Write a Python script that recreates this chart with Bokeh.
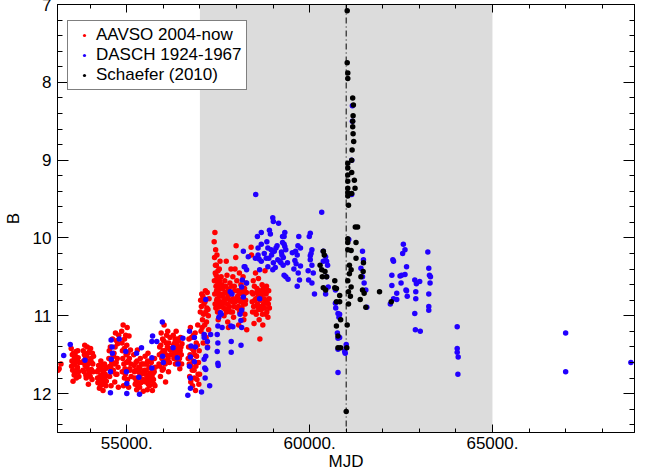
from bokeh.plotting import figure
from bokeh.models import (Range1d, FixedTicker, LinearAxis, BoxAnnotation, Span, Legend,
                          LegendItem, CustomLabelingPolicy)
from bokeh.embed import file_html
from bokeh.resources import INLINE

FONT = "Liberation Sans"

# ---------------- data ----------------
aavso_mjd = [
    53120, 53150, 53200,
    53480, 53500, 53520, 53540, 53560, 53580, 53600, 53620, 53640, 53660, 53680, 53700, 53530,
    53490, 53510, 53550, 53570, 53590, 53610, 53630, 53650, 53670, 53690,
    53790, 53810, 53830, 53850, 53870, 53890, 53910, 53930, 53950, 53970, 53990, 54010, 54030, 54050, 54070, 54090,
    53800, 53820, 53840, 53860, 53880, 53900, 53920, 53940, 53960, 53980, 54000, 54020, 54040, 54060, 54080,
    54190, 54210, 54230, 54250, 54270, 54290, 54310, 54330, 54350, 54370, 54390, 54410, 54430, 54450,
    54200, 54220, 54240, 54260, 54280, 54300, 54320, 54340, 54360, 54380, 54400, 54420, 54440,
    54510, 54530, 54550, 54570, 54590, 54610, 54630, 54650, 54670, 54690, 54710, 54730, 54750, 54770, 54560, 54640,
    54520, 54540, 54580, 54600, 54620, 54660, 54680, 54700, 54720, 54740, 54760, 54780,
    54860, 54880, 54900, 54920, 54940, 54960, 54980, 55000, 55020, 55040, 55060, 55080, 55100, 55120, 54910, 55010, 55050,
    54870, 54890, 54930, 54950, 54970, 54990, 55030, 55070, 55090, 55110, 54875, 54935,
    55190, 55210, 55230, 55250, 55270, 55290, 55310, 55330, 55350, 55370, 55390, 55410, 55430, 55450,
    55200, 55220, 55240, 55260, 55280, 55300, 55320, 55340, 55360, 55380, 55400, 55420, 55440,
    55480, 55500, 55520, 55540, 55560, 55580, 55600, 55620, 55640, 55660, 55680, 55700, 55720, 55740, 55760, 55780,
    55490, 55510, 55530, 55550, 55570, 55590, 55610, 55630, 55650, 55670, 55690, 55710, 55730, 55750, 55770,
    55880, 55900, 55920, 55940, 55960, 55980, 56000, 56020, 56040, 56060, 56080, 56100, 56120, 56140, 56160, 56180, 56200,
    55890, 55910, 55930, 55950, 55970, 55990, 56010, 56030, 56050, 56070, 56090, 56110, 56130, 56150, 56170, 56190,
    56250, 56270, 56290, 56310, 56330, 56350, 56370, 56390, 56410, 56430, 56450, 56470, 56490, 56510,
    56260, 56280, 56300, 56320, 56340, 56360, 56380, 56400, 56420, 56440, 56460, 56480, 56500,
    56680, 56700, 56720, 56740, 56760, 56780, 56800, 56820, 56840, 56860, 56880, 56900, 56920, 56940, 56960, 56980, 56990,
    56690, 56710, 56730, 56750, 56770, 56790, 56810, 56830, 56850, 56870, 56890, 56910, 56930, 56950, 56970,
    57010, 57030, 57050, 57070, 57090, 57110, 57130, 57150, 57170, 57190, 57210, 57230, 57250,
    57020, 57040, 57060, 57080, 57100, 57120, 57140, 57160, 57180, 57200, 57220, 57240,
    57390, 57400, 57410, 57420, 57430, 57440, 57450, 57460, 57470, 57480, 57490, 57500, 57510, 57520, 57530, 57540, 57550, 57560, 57570, 57580,
    57395, 57405, 57415, 57425, 57435, 57445, 57455, 57465, 57475, 57485, 57495, 57505, 57515, 57525, 57535, 57545, 57555, 57565, 57575,
    57600, 57620, 57640, 57660, 57680, 57700, 57720, 57740, 57760, 57780, 57800, 57820, 57840, 57860, 57880, 57900, 57920, 57940, 57960, 57980,
    57990, 58000, 58010, 58020, 58040, 58060, 58080, 58100, 58120, 58140, 58160, 58180, 58200, 58220, 58240, 58260, 58280, 57720, 57850, 57780,
    57610, 57630, 57650, 57670, 57690, 57710, 57730, 57750, 57770, 57790, 57810, 57830, 57870, 57890, 57910, 57930, 57950, 57970,
    58030, 58050, 58070, 58090, 58110, 58130, 58150, 58170, 58190, 58210, 58230, 58250, 58270,
    58420, 58440, 58460, 58480, 58500, 58520, 58540, 58560, 58580, 58600, 58620, 58640, 58660, 58680, 58700, 58720, 58740, 58760, 58780, 58800, 58820, 58840, 58860, 58880, 58900,
    58430, 58450, 58470, 58490, 58510, 58530, 58550, 58570, 58590, 58610, 58630, 58650, 58670, 58690, 58710, 58730, 58750, 58770, 58790, 58810, 58830, 58850, 58870, 58890,
    58400, 58410,
]
aavso_b = [
    11.70, 11.68, 11.62,
    11.42, 11.58, 11.70, 11.48, 11.76, 11.63, 11.52, 11.80, 11.68, 11.45, 11.72, 11.60, 11.84,
    11.65, 11.50, 11.62, 11.55, 11.74, 11.46, 11.58, 11.66, 11.54, 11.78,
    11.60, 11.45, 11.72, 11.38, 11.55, 11.80, 11.66, 11.48, 11.88, 11.74, 11.58, 11.42, 11.69, 11.82, 11.62, 11.52,
    11.70, 11.58, 11.50, 11.64, 11.76, 11.52, 11.40, 11.62, 11.70, 11.46, 11.78, 11.55, 11.60, 11.48, 11.72,
    11.72, 11.86, 11.64, 11.93, 11.78, 11.58, 11.88, 11.70, 11.96, 11.82, 11.62, 11.75, 11.90, 11.66,
    11.80, 11.70, 11.84, 11.68, 11.90, 11.76, 11.64, 11.82, 11.72, 11.88, 11.80, 11.68, 11.84,
    11.55, 11.78, 11.40, 11.90, 11.62, 11.30, 11.70, 11.48, 11.85, 11.22, 11.60, 11.75, 11.36, 11.92, 11.67, 11.52,
    11.45, 11.65, 11.58, 11.72, 11.50, 11.62, 11.40, 11.75, 11.32, 11.55, 11.66, 11.25,
    11.20, 11.45, 11.12, 11.62, 11.30, 11.75, 11.50, 11.38, 11.82, 11.58, 11.26, 11.68, 11.44, 11.78, 11.90, 11.15, 11.92,
    11.35, 11.55, 11.42, 11.68, 11.25, 11.60, 11.48, 11.55, 11.70, 11.62, 11.72, 11.80,
    11.50, 11.72, 11.88, 11.60, 11.95, 11.44, 11.80, 11.66, 11.92, 11.55, 11.75, 11.85, 11.62, 11.97,
    11.64, 11.80, 11.70, 11.84, 11.58, 11.90, 11.72, 11.78, 11.68, 11.86, 11.62, 11.74, 11.82,
    11.70, 11.52, 11.85, 11.62, 11.95, 11.48, 11.78, 11.90, 11.58, 11.82, 11.68, 11.96, 11.74, 11.88, 11.55, 11.66,
    11.62, 11.75, 11.70, 11.80, 11.58, 11.88, 11.66, 11.74, 11.84, 11.60, 11.78, 11.68, 11.82, 11.72, 11.90,
    11.62, 11.40, 11.78, 11.22, 11.55, 11.30, 11.68, 11.12, 11.45, 11.85, 11.35, 11.58, 11.20, 11.72, 11.42, 11.28, 11.50,
    11.50, 11.65, 11.38, 11.48, 11.70, 11.45, 11.32, 11.58, 11.62, 11.50, 11.25, 11.40, 11.55, 11.35, 11.60, 11.44,
    11.42, 11.25, 11.55, 11.35, 11.62, 11.20, 11.48, 11.30, 11.58, 11.40, 11.68, 11.28, 11.50, 11.36,
    11.50, 11.38, 11.45, 11.30, 11.52, 11.36, 11.60, 11.42, 11.32, 11.55, 11.45, 11.40, 11.62,
    11.55, 11.30, 11.78, 11.15, 11.65, 11.42, 11.90, 11.25, 11.70, 11.50, 11.96, 11.35, 11.82, 11.12, 11.60, 11.45, 11.75,
    11.40, 11.62, 11.50, 11.85, 11.28, 11.70, 11.58, 11.45, 11.80, 11.22, 11.65, 11.52, 11.38, 11.75, 11.88,
    10.95, 11.20, 10.72, 11.05, 11.35, 10.85, 11.12, 10.68, 11.28, 10.90, 11.40, 11.00, 10.78,
    10.80, 10.88, 11.15, 10.75, 10.98, 11.25, 10.82, 10.95, 11.08, 10.70, 10.92, 11.18,
    10.05, 10.25, 9.93, 10.45, 10.15, 10.62, 10.35, 10.80, 10.52, 10.95, 10.70, 11.05, 10.58, 10.88, 10.40, 10.75, 10.30, 10.65, 10.98, 10.50,
    10.55, 10.72, 10.85, 10.35, 10.90, 10.48, 10.68, 10.22, 10.78, 10.60, 10.42, 10.85, 10.95, 10.65, 10.55, 10.88, 10.72, 10.82, 10.62,
    10.60, 10.85, 10.72, 11.00, 10.55, 10.92, 10.78, 10.48, 11.08, 10.66, 10.88, 10.58, 10.95, 10.70, 10.82, 10.50, 11.02, 10.62, 10.40, 10.25,
    10.10, 10.78, 10.55, 10.90, 10.68, 11.12, 10.45, 10.80, 10.60, 10.95, 10.72, 10.50, 11.05, 10.65, 10.85, 10.58, 11.18, 10.30, 10.40, 11.15,
    10.75, 10.65, 10.90, 10.80, 10.70, 10.62, 10.95, 10.85, 10.75, 10.90, 10.72, 10.80, 10.62, 10.95, 10.78, 10.88, 10.68, 10.82,
    10.75, 10.88, 10.70, 10.95, 10.82, 10.68, 10.90, 10.78, 10.85, 10.72, 10.98, 10.80, 10.70,
    10.70, 10.95, 10.55, 11.10, 10.80, 10.45, 10.98, 10.65, 10.88, 10.52, 11.05, 11.30, 10.75, 10.92, 10.60, 11.12, 10.85, 10.70, 10.42, 10.98, 10.62, 10.80, 11.02, 10.68, 10.90,
    10.82, 10.72, 10.88, 10.62, 10.95, 10.78, 10.70, 10.85, 10.75, 10.92, 10.68, 10.80, 10.88, 10.72, 10.98, 10.65, 10.78, 10.90, 10.82, 10.72, 10.95, 10.68, 10.85, 10.78,
    10.12, 10.22,
]

dasch_mjd = [
    53275, 53454, 53856,
    54553, 54553, 54571, 54598, 54606, 54575,
    54794, 54973, 54989, 55000, 55000,
    55268, 55330, 55348, 55402,
    55686, 55686, 55686, 55705, 55820,
    55972, 55980, 55999,
    56267, 56382, 56401, 56535,
    56669, 56715, 56715, 56741, 56741, 56741, 56757, 56849, 56849, 56875,
    57044, 57116, 57116, 57116, 57132, 57143, 57159, 57159, 57159, 57205, 57205, 57266, 57293,
    57473, 57473, 57491, 57491, 57500, 57491, 57518, 57561, 57607, 57582,
    57829, 57848, 57875, 57856, 57856, 57900,
    58097, 58124, 58142, 58142, 58120, 58142, 58188, 58188, 58210, 58231, 58276, 58276, 58160, 58322,
    58517, 58526, 58571, 58590, 58590, 58617, 58633, 58633, 58678, 58678, 58678,
    58812, 58858, 58858, 58885, 58901, 58927, 58946, 58992, 58992, 58992, 59008, 59008, 59034, 59061, 59080,
    59152, 59187, 59214, 59241, 59260, 59260, 59276, 59302, 59302, 59302, 59321, 59321, 59348, 59348,
    59394, 59410, 59528, 59570, 59597, 59616, 59661, 59661, 59688, 59704, 59723, 59750, 59750,
    59972, 59991, 60018, 60018, 60018, 60063, 60063, 60063, 60133,
    58760, 58830, 58960, 59110, 59130, 59230, 59280, 59630, 59680, 59960, 60040, 60100,
    60331, 60374, 60374, 60438, 60438, 60465, 60465, 60492, 60508,
    60706, 60706, 60714, 60776, 60803, 60821, 60760, 60776, 60821, 60776, 60776, 60960, 60974, 61001, 61001,
    61071, 61151, 61151, 61170, 61170,
    61403, 61446, 61446, 61472, 61491, 61537, 61564,
    62207, 62249, 62249, 62276, 62295, 62295,
    62383, 62383, 62474, 62501, 62517, 62544, 62563, 62608, 62608, 62635, 62651, 62651, 62670,
    62876, 62876, 62892, 62903, 62903, 62919, 63010, 63026,
    63233, 63259, 63259, 63259, 63259, 63278, 63294, 63305,
    64036, 64036, 64036, 64063, 64055,
    67002, 67002, 68786,
]
dasch_b = [
    11.51, 11.37, 11.57,
    11.72, 11.99, 11.31, 11.40, 11.48, 11.56,
    11.30, 11.46, 11.72, 11.87, 12.00,
    11.48, 11.79, 12.01, 11.41,
    11.33, 11.54, 11.67, 11.26, 11.33,
    11.08, 11.52, 11.60,
    11.41, 11.54, 11.62, 11.29,
    12.02, 11.20, 11.65, 11.53, 11.80, 11.93, 11.39, 11.28, 11.59, 11.40,
    11.98, 11.24, 11.56, 11.28, 11.67, 11.80, 10.79, 11.52, 11.69, 11.41, 11.33, 11.90, 11.24,
    11.24, 11.46, 11.35, 11.61, 11.64, 11.13, 11.02, 10.96, 11.15, 10.98,
    10.69, 11.13, 10.72, 11.33, 11.47, 11.14,
    10.98, 11.38, 10.63, 11.15, 11.06, 10.93, 10.76, 10.17, 10.37, 10.37, 10.41, 10.58, 10.54, 10.24,
    10.26, 9.44, 9.98, 10.13, 10.22, 10.27, 10.78, 10.41, 9.93, 10.08, 10.30,
    10.26, 10.13, 10.37, 10.26, 9.90, 9.95, 10.15, 9.74, 10.17, 10.41, 9.79, 10.32, 10.17, 10.38, 10.13,
    9.81, 10.30, 10.32, 10.22, 9.98, 10.06, 10.35, 9.98, 10.08, 10.48, 9.93, 10.11, 10.15, 10.50,
    10.32, 10.53, 10.19, 10.40, 10.29, 10.17, 10.22, 10.62, 10.45, 9.98, 10.54, 10.13, 10.36,
    10.54, 9.98, 9.94, 10.23, 10.28, 10.15, 10.35, 10.58, 10.72,
    10.20, 10.05, 10.22, 10.10, 10.28, 10.18, 10.25, 10.33, 10.10, 10.42, 10.20, 10.45,
    9.67, 10.17, 10.30, 10.24, 10.72, 10.30, 10.50, 10.35, 10.63,
    10.67, 10.84, 10.90, 10.97, 11.02, 10.98, 11.22, 11.29, 11.28, 11.43, 11.73, 11.46, 11.48, 11.37, 11.41,
    10.02, 9.00, 9.44, 8.30, 8.50,
    10.39, 10.17, 10.50, 10.28, 10.58, 10.67, 10.89,
    10.85, 10.48, 10.61, 10.28, 10.78, 10.30,
    10.71, 10.79, 10.49, 10.58, 10.48, 10.20, 10.08, 10.15, 10.47, 10.67, 10.37, 10.68, 10.75,
    10.54, 10.97, 11.18, 10.69, 10.78, 10.59, 10.56, 11.20,
    10.18, 10.39, 10.72, 10.88, 10.93, 10.48, 10.58, 10.50,
    11.14, 11.42, 11.47, 11.53, 11.75,
    11.22, 11.72, 11.60,
]

schaefer_mjd = [
    61028, 61028, 61044, 61044, 61178, 61197, 61189, 61178, 61178, 61189, 61205, 61162, 61151,
    61044, 61044, 61151, 61044, 61223, 61044, 61044, 61242, 61044, 61151, 61044, 61063,
    61250, 61312, 61044, 61044, 61269, 61135, 61044, 61269, 61089, 61135, 61089, 61044, 61135,
    61063, 61116, 61063, 61472, 61464, 61403, 61446, 61491, 61384, 61537, 61912, 61028, 61017, 61001,
    60374, 60401, 60286, 60331, 60420, 60347, 60465, 60374, 60438,
    60688, 60733, 60822, 60733, 60822, 60849, 60733, 60776, 60776, 60849, 60688, 62233,
]
schaefer_b = [
    7.08, 7.75, 7.88, 7.95, 8.20, 8.29, 8.43, 8.50, 8.57, 8.66, 8.76, 8.87, 9.00,
    9.04, 9.10, 9.16, 9.19, 9.26, 9.27, 9.36, 9.36, 9.42, 9.43, 9.46, 9.58,
    9.86, 9.86, 10.01, 10.06, 10.06, 10.16, 10.15, 10.26, 10.35, 10.41, 10.46, 10.55, 10.63,
    10.69, 10.75, 10.85, 10.32, 10.43, 10.50, 10.67, 10.71, 10.79, 10.89, 10.69, 11.12, 11.41, 12.23,
    10.17, 10.22, 10.35, 10.41, 10.43, 10.50, 10.50, 10.64, 10.67,
    10.55, 10.65, 10.74, 10.82, 10.82, 11.05, 11.13, 11.26, 11.41, 11.41, 10.64, 10.82,
]

series_labels = ["AAVSO 2004-now", "DASCH 1924-1967", "Schaefer (2010)"]

x_major_ticks = [55000, 60000, 65000]
x_tick_labels = {55000: "55000.", 60000: "60000.", 65000: "65000."}
x_minor_ticks = list(range(53000, 70001, 1000))
y_major_ticks = [7, 8, 9, 10, 11, 12]
y_minor_ticks = [round(7 + 0.2 * i, 1) for i in range(0, 28)]

shade_start, shade_end = 57000, 65000
eruption_mjd = 61000

# ---------------- figure ----------------
p = figure(width=638, height=481, output_backend="svg", toolbar_location=None,
           x_range=Range1d(53105, 68885), y_range=Range1d(12.5, 7.0),
           min_border_left=49, min_border_right=0, min_border_top=12, min_border_bottom=0,
           x_axis_label="MJD", y_axis_label="B")
p.styles = {"margin-top": "-8px"}
p.grid.visible = False
p.outline_line_color = "black"
p.outline_line_width = 1
p.background_fill_color = "white"
p.border_fill_color = "white"

shade = BoxAnnotation(left=shade_start, right=shade_end, fill_color="#dcdcdc", fill_alpha=1.0,
                      line_color=None, level="underlay")
p.add_layout(shade)
vline = Span(location=eruption_mjd, dimension="height", line_color="black", line_width=1,
             line_dash="6 3 1 3", level="underlay")
p.add_layout(vline)

r_a = p.scatter(aavso_mjd, aavso_b, size=5.5, fill_color="#ff0000", line_color=None)
r_d = p.scatter(dasch_mjd, dasch_b, size=5.5, fill_color="#2200ff", line_color=None)
r_s = p.scatter(schaefer_mjd, schaefer_b, size=5.5, fill_color="#000000", line_color=None)

top_axis = LinearAxis()
right_axis = LinearAxis()
p.add_layout(top_axis, "above")
p.add_layout(right_axis, "right")

xtick = FixedTicker(ticks=x_major_ticks, minor_ticks=x_minor_ticks)
ytick = FixedTicker(ticks=y_major_ticks, minor_ticks=y_minor_ticks)
for ax in p.xaxis:
    ax.ticker = xtick
    ax.major_tick_in = 8
    ax.minor_tick_in = 4
for ax in p.yaxis:
    ax.ticker = ytick
    ax.major_tick_in = 11
    ax.minor_tick_in = 5

for ax in list(p.xaxis) + list(p.yaxis):
    ax.major_tick_out = 0
    ax.minor_tick_out = 0
    ax.axis_line_color = "black"
    ax.axis_line_width = 1
    ax.major_tick_line_color = "black"
    ax.minor_tick_line_color = "black"
    ax.major_label_text_font = FONT
    ax.major_label_text_color = "black"
    ax.axis_label_text_font = FONT
    ax.axis_label_text_color = "black"
    ax.axis_label_text_font_style = "normal"

for ax in (top_axis, right_axis):
    ax.major_label_policy = CustomLabelingPolicy(code="return []")
    ax.major_label_text_font_size = "1px"
    ax.major_label_standoff = 0

bottom = p.below[0]
bottom.major_label_overrides = x_tick_labels
bottom.major_label_text_font_size = "17px"
bottom.major_label_standoff = 4
bottom.axis_label_text_font_size = "17px"
bottom.axis_label_standoff = 0

left = p.left[0]
left.major_label_text_font_size = "17px"
left.major_label_standoff = 6
left.axis_label_text_font_size = "17px"
left.axis_label_standoff = 7

legend = Legend(items=[LegendItem(label=series_labels[0], renderers=[r_a]),
                       LegendItem(label=series_labels[1], renderers=[r_d]),
                       LegendItem(label=series_labels[2], renderers=[r_s])],
                location=(10, 342))
legend.label_text_font = FONT
legend.label_text_font_size = "17px"
legend.label_text_color = "black"
legend.label_height = 17
legend.glyph_height = 8
legend.glyph_width = 24
legend.label_standoff = 0
legend.spacing = -4
legend.padding = 4
legend.margin = 0
legend.border_line_color = "black"
legend.border_line_width = 1
legend.background_fill_color = "white"
legend.background_fill_alpha = 1.0
p.add_layout(legend)

open("out.html", "w").write(file_html(p, INLINE))
